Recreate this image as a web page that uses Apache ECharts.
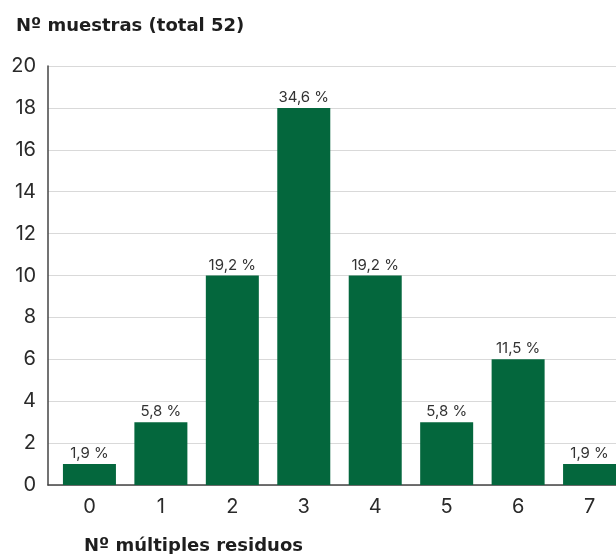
<!DOCTYPE html>
<html>
<head>
<meta charset="utf-8">
<script src="https://cdn.jsdelivr.net/npm/echarts@6/dist/echarts.min.js"></script>
<style>
  * { margin: 0; padding: 0; }
  body { background: #fff; }
</style>
</head>
<body>
<div id="chart" style="width: 616px; height: 554px;"></div>
<script>
// datos
var categorias = [0, 1, 2, 3, 4, 5, 6, 7];
var muestras = [1, 3, 10, 18, 10, 3, 6, 1];
var porcentajes = ['1,9 %', '5,8 %', '19,2 %', '34,6 %', '19,2 %', '5,8 %', '11,5 %', '1,9 %'];

var datos = categorias.map(function (c, i) { return [c, muestras[i]]; });

var chart = echarts.init(document.getElementById('chart'));
chart.setOption({
  animation: false,
  title: [
    {
      text: 'Nº muestras (total 52)',
      left: 11,
      top: 12,
      textStyle: { fontFamily: 'DejaVu Sans', fontWeight: 'bold', fontSize: 18, color: '#1e1e1e' }
    },
    {
      text: 'Nº múltiples residuos',
      left: 79,
      top: 532,
      textStyle: { fontFamily: 'DejaVu Sans', fontWeight: 'bold', fontSize: 18, color: '#1e1e1e' }
    }
  ],
  grid: {
    left: 48,
    right: 0,
    top: 66,
    bottom: 69
  },
  xAxis: {
    type: 'value',
    min: -0.58,
    max: 7.37,
    axisLine: { show: true, onZero: false, lineStyle: { color: '#444', width: 1.5 } },
    axisTick: { show: false },
    splitLine: { show: false },
    axisLabel: {
      customValues: categorias,
      fontFamily: 'Inter',
      fontWeight: 'normal',
      fontSize: 20,
      color: '#2a2a2a',
      margin: 12
    }
  },
  yAxis: {
    type: 'value',
    min: 0,
    max: 20,
    interval: 2,
    axisLine: { show: true, onZero: false, lineStyle: { color: '#444', width: 1.5 } },
    axisTick: { show: false },
    axisLabel: { fontFamily: 'Inter', fontWeight: 'normal', fontSize: 20, color: '#2a2a2a', margin: 12 },
    splitLine: { lineStyle: { color: '#d9d9d9', width: 1.2 } }
  },
  series: [
    {
      type: 'bar',
      data: datos,
      barWidth: 53,
      itemStyle: { color: '#04673d' },
      label: {
        show: true,
        position: 'top',
        distance: 3,
        fontFamily: 'Inter',
        fontSize: 15,
        color: '#333',
        formatter: function (p) { return porcentajes[p.dataIndex]; }
      }
    }
  ]
});
</script>
</body>
</html>
